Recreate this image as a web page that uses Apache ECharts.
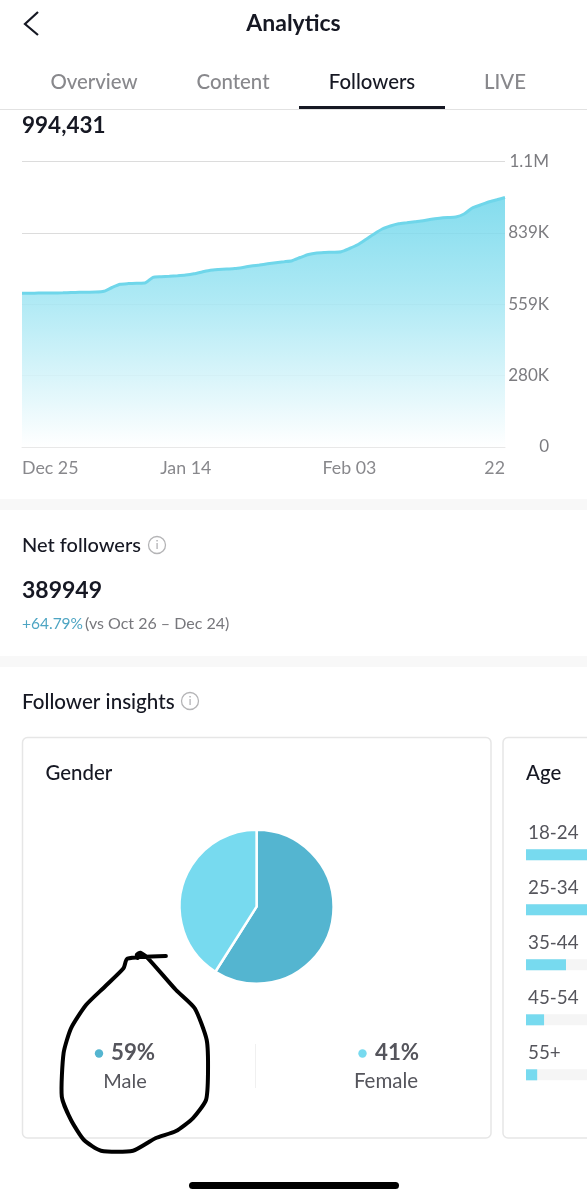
<!DOCTYPE html>
<html><head><meta charset="utf-8">
<style>html,body{margin:0;padding:0;background:#fff}#c{width:587px;height:1200px}</style>
<script src="https://cdn.jsdelivr.net/npm/echarts@6/dist/echarts.min.js"></script>
</head><body><div id="c"></div>
<script>
// Followers over time, in thousands, one value per day (Dec 25 - Feb 22)
const followerDays = ['Dec 25','Dec 26','Dec 27','Dec 28','Dec 29','Dec 30','Dec 31','Jan 01','Jan 02','Jan 03','Jan 04','Jan 05','Jan 06','Jan 07','Jan 08','Jan 09','Jan 10','Jan 11','Jan 12','Jan 13','Jan 14','Jan 15','Jan 16','Jan 17','Jan 18','Jan 19','Jan 20','Jan 21','Jan 22','Jan 23','Jan 24','Jan 25','Jan 26','Jan 27','Jan 28','Jan 29','Jan 30','Jan 31','Feb 01','Feb 02','Feb 03','Feb 04','Feb 05','Feb 06','Feb 07','Feb 08','Feb 09','Feb 10','Feb 11','Feb 12','Feb 13','Feb 14','Feb 15','Feb 16','Feb 17','Feb 18','Feb 19','Feb 20','Feb 21','22'];
const followerValues = [601.9,602.3,602.7,603.0,603.0,603.8,605.0,605.8,606.2,606.6,609.7,624.6,637.1,639.9,641.4,642.2,664.5,666.9,668.8,670.8,673.5,678.2,685.3,692.3,695.1,697.0,698.6,703.3,708.8,712.7,717.4,721.3,725.2,729.5,742.1,753.8,759.7,761.6,762.8,764.8,777.3,791.8,812.5,834.1,853.7,865.4,874.0,877.9,881.9,885.8,892.0,896.0,898.7,900.7,912.4,935.9,947.6,959.4,968.0,977.0];
const xTickIndexes = [0,20,40,59];
const yTickLabels = ['0','280K','559K','839K','1.1M'];
const yMax = 1118, yInterval = 279.5;
const genderNames = ['Male','Female'];
const genderValues = [59,41];
const ageGroups = ['18-24','25-34','35-44','45-54','55+'];
const ageValues = [54,30,9.3,4.2,2.6];
const totalFollowers = '994,431';
const netFollowers = '389949';

const FONT = 'Lato, "Noto Sans", sans-serif';
const DARK = '#161823', GRAY = '#88888c', MID = '#55555c';
const C1 = '#54b5d0', C2 = '#77daef';

function txt(text, x, y, size, weight, fill, align){
  return {type:'text', z:10, silent:true, style:{text, x, y, fill, align:align||'left', verticalAlign:'middle',
    font: weight+' '+size+'px '+FONT}};
}
function rect(x,y,w,h,fill,r,stroke,z){
  return {type:'rect', z:z==null?0:z, silent:true, shape:{x,y,width:w,height:h,r:r||0},
    style:{fill:fill, stroke:stroke||null, lineWidth:stroke?1.5:0}};
}
function info(cx,cy){
  return [
    {type:'circle', z:10, silent:true, shape:{cx,cy,r:8.5}, style:{fill:'none',stroke:'#b4b4b6',lineWidth:1.3}},
    txt('i',cx,cy,11,400,'#a0a0a4','center')
  ];
}
const loop = [[165.9,956],[127.3,958.7],[123.5,968.3],[104.8,986.7],[86,1005],[71,1028.3],[63.6,1053],[61.8,1096.7],[71,1120],[84,1140],[101,1150.7],[133,1150.7],[155.4,1138.3],[176,1131],[192.8,1118.3],[206,1100],[208,1073],[206.7,1040],[194.7,1008.3],[176,990],[148,958.3],[140.4,952.7],[136.7,955],[137.8,958]];

const graphic = [
  {type:'polyline', z:10, silent:true, shape:{points:[[38,12],[25,24],[38,35]]}, style:{fill:'none',stroke:DARK,lineWidth:2.2}},
  txt('Analytics',293.5,24,23,700,DARK,'center'),
  txt('Overview',94,82,20.4,500,GRAY,'center'),
  txt('Content',233,82,20.4,500,GRAY,'center'),
  txt('Followers',372,82,20.4,500,DARK,'center'),
  txt('LIVE',505,82,20.4,500,GRAY,'center'),
  rect(0,109,587,1,'#e2e2e2'),
  rect(299,106,146,3,DARK),
  txt(totalFollowers,22,126,22.5,700,DARK),
  rect(0,499,587,11,'#f8f8f8'),
  txt('Net followers',22,546,20,500,DARK),
  ...info(157,545),
  txt(netFollowers,22,591,23,700,DARK),
  txt('+64.79%',22,623.5,15.5,400,'#4ea5c3'),
  txt('(vs Oct 26 \u2013 Dec 24)',85,623.5,16,400,'#77777c'),
  rect(0,656,587,11,'#f8f8f8'),
  txt('Follower insights',22,702,20.6,500,DARK),
  ...info(190,701),
  rect(22.5,737.5,468.5,400.5,'#fff',5,'#e6e6e6'),
  rect(503,737.5,300,400.5,'#fff',5,'#e6e6e6'),
  txt('Gender',45.5,773,20.4,500,DARK),
  txt('Age',526,773,20.4,500,DARK),
  {type:'circle', z:10, silent:true, shape:{cx:99,cy:1053.5,r:4.2}, style:{fill:C1}},
  txt(genderValues[0]+'%',111,1052.5,22.3,700,MID),
  txt(genderNames[0],125,1081.5,20,400,MID,'center'),
  rect(255,1044,1,44,'#f0f0f0',0,null,1),
  {type:'circle', z:10, silent:true, shape:{cx:362.5,cy:1053.5,r:4.2}, style:{fill:C2}},
  txt(genderValues[1]+'%',375,1052.5,22.3,700,MID),
  txt(genderNames[1],386,1081.5,20.5,400,MID,'center'),
  {type:'polyline', z:20, silent:true, shape:{points:loop, smooth:0.2},
    style:{fill:'none',stroke:'#000',lineWidth:4,lineCap:'round',lineJoin:'round'}},
  rect(189,1182,210,7,'#000',3.5)
];

const chart = echarts.init(document.getElementById('c'), null, {renderer:'canvas', width:587, height:1200});
chart.setOption({
  animation:false,
  backgroundColor:'#fff',
  graphic:{elements:graphic},
  grid:[
    {left:22, top:161.5, width:483, height:285.5, outerBoundsMode:'none'},
    {left:526, top:827.3, width:430, height:275, outerBoundsMode:'none'}
  ],
  xAxis:[
    {type:'category', gridIndex:0, data:followerDays, boundaryGap:false,
     axisTick:{show:false},
     axisLine:{lineStyle:{color:'#e8e8e8',width:1}},
     axisLabel:{interval:(i)=>xTickIndexes.includes(i), color:GRAY, fontSize:17.8, fontFamily:FONT, margin:12,
       alignMinLabel:'left', alignMaxLabel:'right', hideOverlap:false, showMinLabel:true, showMaxLabel:true}},
    {type:'value', gridIndex:1, min:0, max:100, show:false}
  ],
  yAxis:[
    {type:'value', gridIndex:0, position:'right', min:0, max:yMax, interval:yInterval,
     axisLine:{show:false}, axisTick:{show:false},
     splitLine:{lineStyle:{color:'#dcdcdc',width:1}},
     axisLabel:{formatter:(v,i)=>yTickLabels[i], color:'#7c7c80', fontSize:17, fontFamily:FONT, align:'right', margin:44, padding:[2,0,0,0]}},
    {type:'category', gridIndex:1, data:ageGroups, inverse:true,
     axisLine:{show:false}, axisTick:{show:false},
     axisLabel:{inside:true, color:MID, fontSize:18.8, fontFamily:FONT, align:'left', verticalAlign:'bottom', margin:2, padding:[0,0,12,0]}}
  ],
  series:[
    {type:'line', xAxisIndex:0, yAxisIndex:0, data:followerValues, showSymbol:false, smooth:0.2, silent:true,
     lineStyle:{color:'#6fd6ea',width:3},
     areaStyle:{opacity:1, color:{type:'linear',x:0,y:0,x2:0,y2:1,colorStops:[
       {offset:0,color:'rgba(106,213,234,0.82)'},{offset:0.4,color:'rgba(162,230,243,0.87)'},{offset:1,color:'rgba(255,255,255,0.88)'}]}}},
    {type:'bar', xAxisIndex:1, yAxisIndex:1, data:ageValues, barWidth:11, silent:true,
     itemStyle:{color:C2}, showBackground:true, backgroundStyle:{color:'#f5f5f5'}},
    {type:'pie', center:[256.6,906.7], radius:[0,77], startAngle:90, clockwise:true, silent:true,
     label:{show:false}, labelLine:{show:false},
     itemStyle:{borderColor:'#fff',borderWidth:2.5},
     data:genderNames.map((n,i)=>({name:n,value:genderValues[i],itemStyle:{color:[C1,C2][i]}}))}
  ]
});
</script></body></html>
